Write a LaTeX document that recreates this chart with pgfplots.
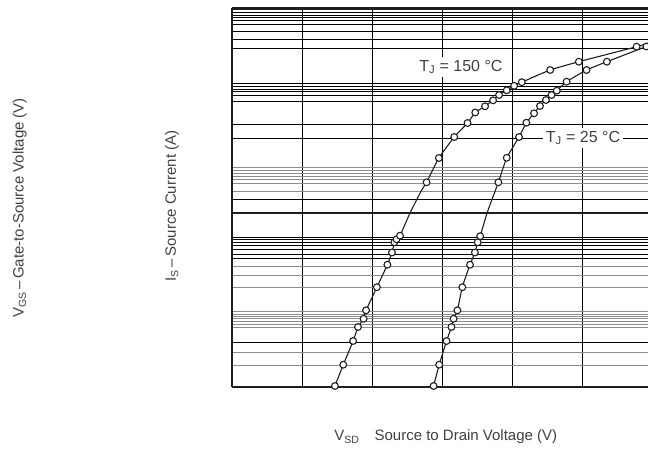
\documentclass[border=0pt]{standalone}
\usepackage{pgfplots}
\pgfplotsset{compat=1.18}
\usepackage{fontspec}
\setmainfont{Liberation Sans}
\definecolor{ink}{gray}{0.12}
\definecolor{lightgrid}{gray}{0.55}
\definecolor{labelgray}{gray}{0.25}

\begin{document}
\begin{tikzpicture}[x=1pt,y=1pt]
\useasboundingbox (0,0) rectangle (648,451);
\begin{axis}[
    at={(232pt,64pt)}, anchor=south west,
    width=416pt, height=378.5pt, scale only axis,
    xmin=0, xmax=1.18857,
    ymin=0, ymax=378.5,
    clip=false,
    axis line style={draw=none},
    major tick length=0pt, minor tick length=0pt,
    xticklabels={,,}, yticklabels={,,},
    tick label style={opacity=0},
    xtick={0.2,0.4,0.6,0.8,1.0},
    ytick={45,128.3,133,137.7,142,145,147.3,149.5,187.7,248.7,262.7,286,291.7,295.5,298,300.5,304,338.3,348,356,362.7,366.5,369.5,372,374.3},
    minor ytick={21.3,34.7,59.3,63,65.7,68.3,70.7,73,75.3,99.3,111.3,121,195.3,203.5,207.5,211,214,217,219.5},
    grid=both,
    major grid style={black, line width=0.9pt},
    minor grid style={lightgrid, line width=0.9pt},
    extra y ticks={0,174.3,378.3},
    extra y tick labels={,,},
    extra y tick style={major grid style={ink, line width=2.4pt}},
    extra x ticks={0},
    extra x tick labels={,},
    extra x tick style={major grid style={ink, line width=2.2pt}},
    xlabel={V\textsubscript{SD}\quad Source to Drain Voltage (V)},
    xlabel style={at={(axis description cs:0.514,-0.132)}, anchor=center,
        font=\fontsize{15}{17}\selectfont, text=labelgray},
    ylabel={I\textsubscript{S}\,–\,Source Current (A)},
    ylabel style={at={(axis description cs:-0.144,0.478)}, anchor=center, rotate=0,
        font=\fontsize{15}{17}\selectfont, text=labelgray},
]
% T_J = 150 C : line
\addplot[ink, line width=1.1pt, smooth, tension=0.3] coordinates {
    (0.294,1) (0.318,22.3) (0.346,46) (0.360,60) (0.376,68.2) (0.383,76.7)
    (0.414,99.8) (0.444,122.3) (0.457,134.5) (0.464,144.7) (0.470,147.7) (0.480,151.3)
    (0.509,174.3) (0.542,197) (0.556,204.7) (0.591,229) (0.635,250) (0.673,264)
    (0.695,274.5) (0.723,280.7) (0.746,286.7) (0.763,292) (0.785,296.7) (0.806,301.2)
    (0.828,304.8) (0.909,317) (0.991,325.3) (1.156,340.3) (1.19,344)
};
% T_J = 150 C : measured points
\addplot[only marks, mark=*, mark size=3.4pt,
    mark options={fill=white, draw=ink, line width=1.1pt}] coordinates {
    (0.294,1) (0.318,22.3) (0.346,46) (0.360,60) (0.376,68.2) (0.383,76.7)
    (0.414,99.8) (0.444,122.3) (0.457,134.5) (0.464,144.7) (0.470,147.7) (0.480,151.3)
    (0.556,204.7) (0.591,229) (0.635,250) (0.673,264)
    (0.695,274.5) (0.723,280.7) (0.746,286.7) (0.763,292) (0.785,296.7) (0.806,301.2)
    (0.828,304.8) (0.909,317) (0.991,325.3) (1.156,340.3)
};
% T_J = 25 C : line
\addplot[ink, line width=1.1pt, smooth, tension=0.3] coordinates {
    (0.576,1) (0.592,22.3) (0.613,46) (0.627,60) (0.633,68.2) (0.644,76.7)
    (0.658,99.8) (0.680,122.3) (0.694,134.5) (0.702,144.7) (0.709,150.8)
    (0.729,174.3) (0.753,197) (0.761,204.7) (0.785,229.2) (0.820,250) (0.841,264.3)
    (0.863,273.7) (0.880,281) (0.897,287) (0.913,292) (0.928,296.3) (0.956,305.3)
    (1.013,317) (1.071,325.3) (1.184,340.5) (1.19,341)
};
% T_J = 25 C : measured points
\addplot[only marks, mark=*, mark size=3.4pt,
    mark options={fill=white, draw=ink, line width=1.1pt}] coordinates {
    (0.576,1) (0.592,22.3) (0.613,46) (0.627,60) (0.633,68.2) (0.644,76.7)
    (0.658,99.8) (0.680,122.3) (0.694,134.5) (0.702,144.7) (0.709,150.8)
    (0.761,204.7) (0.785,229.2) (0.820,250) (0.841,264.3)
    (0.863,273.7) (0.880,281) (0.897,287) (0.913,292) (0.928,296.3) (0.956,305.3)
    (1.013,317) (1.071,325.3) (1.184,340.5)
};
\node[fill=white, inner sep=3pt, text=labelgray, font=\fontsize{16}{18}\selectfont]
    at (axis cs:0.654,320) {T\textsubscript{J} = 150 °C};
\node[fill=white, inner sep=3pt, text=labelgray, font=\fontsize{16}{18}\selectfont]
    at (axis cs:1.003,249) {T\textsubscript{J} = 25 °C};
\node[rotate=90, anchor=center, text=labelgray, font=\fontsize{15}{17}\selectfont]
    at (axis description cs:-0.510,0.473) {V\textsubscript{GS}\,–\,Gate-to-Source Voltage (V)};
\end{axis}
\end{tikzpicture}
\end{document}
